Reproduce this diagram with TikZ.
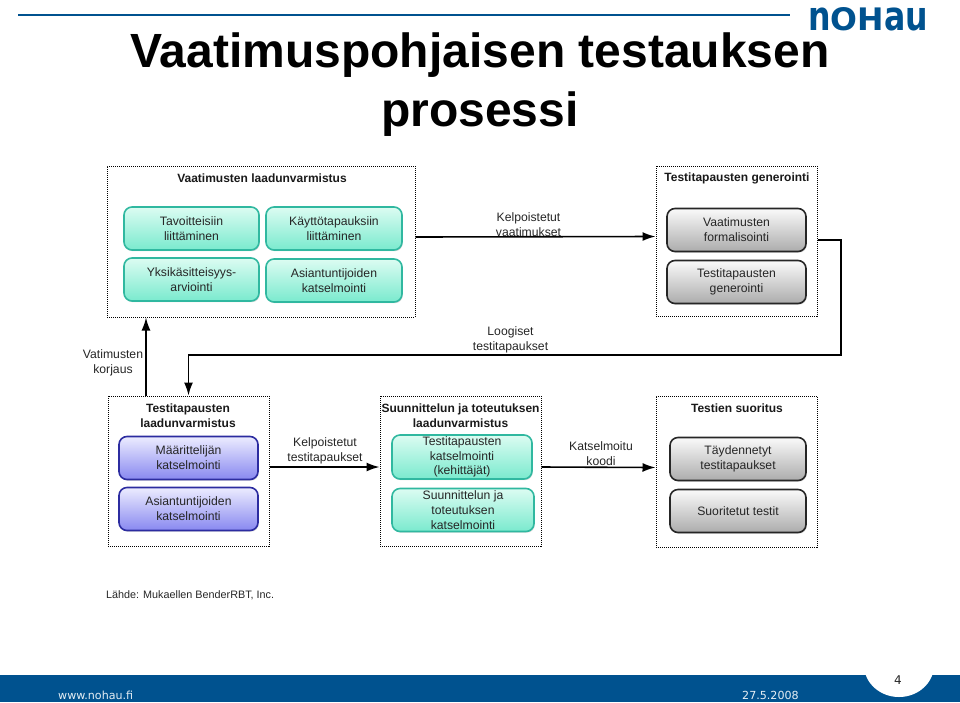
\documentclass[tikz,border=0pt]{standalone}
\usepackage{fontspec}
\setmainfont{Liberation Sans}
\newfontfamily\footfont{DejaVu Sans}
\definecolor{nohaublue}{RGB}{0, 82, 143}
\definecolor{greenedge}{RGB}{48, 184, 160}
\definecolor{greentop}{RGB}{220, 252, 242}
\definecolor{greenbot}{RGB}{122, 234, 206}
\definecolor{blueedge}{RGB}{44, 44, 160}
\definecolor{bluetop}{RGB}{236, 236, 255}
\definecolor{bluebot}{RGB}{136, 136, 240}
\definecolor{graytop}{RGB}{250, 250, 250}
\definecolor{graybot}{RGB}{172, 172, 172}
\usetikzlibrary{arrows.meta,shadows}
\newcommand{\tallglyph}[1]{\scalebox{1}[1.3]{#1}}
\tikzset{
  bodytext/.style={font=\fontsize{12.2}{14.8}\selectfont, align=center, text=black!85, inner sep=0pt},
  headtext/.style={font=\fontsize{12}{14.8}\selectfont\bfseries, align=center, text=black!90, inner sep=0pt},
  framebox/.style={draw=black, densely dotted, line width=1pt, inner sep=0pt},
  tilebox/.style={bodytext, rounded corners=8pt, line width=1.6pt, inner sep=0pt,
    drop shadow={opacity=0.3, shadow xshift=0.8pt, shadow yshift=-1.2pt}},
  greenbox/.style={tilebox, draw=greenedge, top color=greentop, bottom color=greenbot},
  bluebox/.style={tilebox, draw=blueedge, top color=bluetop, bottom color=bluebot},
  graybox/.style={tilebox, draw=black!85, top color=graytop, bottom color=graybot},
  flowline/.style={draw=black, line width=1.6pt, -{Latex[length=13pt, width=9pt]}}
}
\begin{document}
\begin{tikzpicture}[x=1pt, y=-1pt]
  \useasboundingbox (0,0) rectangle (960,702);

  \fill[nohaublue] (0,675) rectangle (960,702);
  \fill[white] (899,665) ellipse [x radius=35, y radius=32];
  \draw[nohaublue, line width=1.2pt] (18,15) -- (790,15);
  \node[font=\fontsize{31}{31}\selectfont\bfseries\footfont, text=nohaublue, xscale=1.02, inner sep=0pt] (logo) at (868,19) {\tallglyph{n}OH\tallglyph{a}\tallglyph{u}};
  \node[font=\fontsize{48}{59}\selectfont\bfseries, align=center, inner sep=0pt] (title) at (480,85) {Vaatimuspohjaisen testauksen\\prosessi};

  \node[framebox, minimum width=308pt, minimum height=151pt] (frameqa) at (261,241.5) {};
  \node[framebox, minimum width=161pt, minimum height=150pt] (framegen) at (736.5,241) {};
  \node[framebox, minimum width=161pt, minimum height=150pt] (frametest) at (188.5,471) {};
  \node[framebox, minimum width=161pt, minimum height=150pt] (framedes) at (460.5,471) {};
  \node[framebox, minimum width=161pt, minimum height=151pt] (framerun) at (736.5,471.5) {};

  \node[headtext] (headqa) at (262,178) {Vaatimusten laadunvarmistus};
  \node[headtext] (headgen) at (737,178) {Testitapausten generointi};
  \node[headtext] (headtest) at (188,415.5) {Testitapausten\\laadunvarmistus};
  \node[headtext] (headdes) at (460.5,415.5) {Suunnittelun ja toteutuksen\\laadunvarmistus};
  \node[headtext] (headrun) at (737,408) {Testien suoritus};

  \node[greenbox, minimum width=135pt, minimum height=43pt] (goals) at (191.5,228.5) {Tavoitteisiin\\liittäminen};
  \node[greenbox, minimum width=136pt, minimum height=43pt] (usecases) at (334,228.5) {Käyttötapauksiin\\liittäminen};
  \node[greenbox, minimum width=135pt, minimum height=43pt] (unitcost) at (191.5,279.5) {Yksikäsitteisyys-\\arviointi};
  \node[greenbox, minimum width=136pt, minimum height=43pt] (experts) at (334,280.5) {Asiantuntijoiden\\katselmointi};

  \node[graybox, minimum width=139pt, minimum height=43pt] (formal) at (736.5,230) {Vaatimusten\\formalisointi};
  \node[graybox, minimum width=139pt, minimum height=43pt] (generate) at (736.5,282) {Testitapausten\\generointi};

  \node[bluebox, minimum width=139pt, minimum height=43pt] (specifier) at (188.5,458) {Määrittelijän\\katselmointi};
  \node[bluebox, minimum width=139pt, minimum height=43pt] (reviewers) at (188.5,509) {Asiantuntijoiden\\katselmointi};

  \node[greenbox, minimum width=140pt, minimum height=44pt] (devreview) at (462,457) {Testitapausten\\katselmointi\\(kehittäjät)};
  \node[greenbox, minimum width=142pt, minimum height=43pt] (desreview) at (463,510) {Suunnittelun ja\\toteutuksen\\katselmointi};

  \node[graybox, minimum width=136pt, minimum height=43pt] (extended) at (738,459) {Täydennetyt\\testitapaukset};
  \node[graybox, minimum width=136pt, minimum height=43pt] (executed) at (738,511) {Suoritetut testit};

  \draw[flowline] ([yshift=4.5pt]frameqa.east) -- ([yshift=4.5pt]framegen.west);
  \draw[flowline] ([yshift=1pt]framegen.east) -| (841,355) -| (frametest.north);
  \draw[flowline] ([xshift=-42.5pt]frametest.north) -- ([xshift=-42.5pt]frametest.north |- frameqa.south);
  \draw[flowline] ([yshift=4pt]frametest.east) -- ([yshift=4pt]framedes.west);
  \draw[flowline] ([yshift=4pt]framedes.east) -- ([yshift=4pt]framerun.west);

  \node[bodytext] (okreqs) at (528.5,225) {Kelpoistetut\\vaatimukset};
  \node[bodytext] (logical) at (510.5,339.5) {Loogiset\\testitapaukset};
  \node[bodytext] (fixreqs) at (113,362.5) {Vatimusten\\korjaus};
  \node[bodytext] (oktests) at (325,451) {Kelpoistetut\\testitapaukset};
  \node[bodytext] (okcode) at (601,454) {Katselmoitu\\koodi};

  \node[font=\fontsize{10.8}{13}\selectfont, text=black!85, inner sep=0pt, anchor=west] (source) at (106,595) {Lähde: Mukaellen BenderRBT, Inc.};
  \node[font=\fontsize{11.1}{14}\selectfont\footfont, text=white!90!nohaublue, inner sep=0pt, anchor=west] (site) at (58,695) {www.nohau.fi};
  \node[font=\fontsize{11.1}{14}\selectfont\footfont, text=white!90!nohaublue, inner sep=0pt, anchor=west] (date) at (742,695) {27.5.2008};
  \node[font=\fontsize{12}{13}\selectfont\footfont, text=black!85, inner sep=0pt] (pagenum) at (898,680) {4};
\end{tikzpicture}
\end{document}
